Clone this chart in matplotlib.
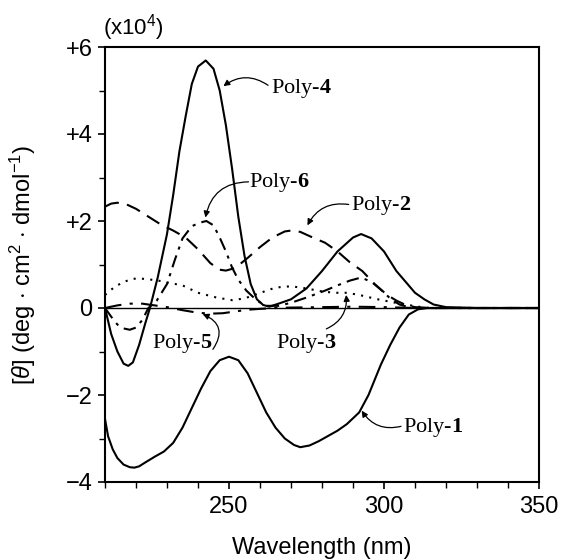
import matplotlib
matplotlib.use("Agg")
import matplotlib.pyplot as plt
from matplotlib.ticker import MultipleLocator

plt.rcParams['font.family'] = ['Liberation Sans', 'DejaVu Sans']
plt.rcParams['mathtext.fontset'] = 'custom'
plt.rcParams['mathtext.rm'] = 'Liberation Sans'
plt.rcParams['mathtext.it'] = 'Liberation Sans:italic'
plt.rcParams['mathtext.bf'] = 'Liberation Serif:bold'

# ---- data (units of 1e4 deg cm2 dmol-1) ----
poly4_x = [210, 212, 214, 216, 217.5, 219, 221, 223, 224.5, 227, 230, 232, 234, 236, 238, 240, 242.5,
           245, 247, 249, 251, 253, 255, 257, 259, 261, 263, 266, 270, 275, 280, 285, 290, 292.6,
           296, 300, 304, 307, 310, 313, 316, 320, 330, 350]
poly4_y = [0, -0.6, -1.0, -1.28, -1.33, -1.25, -0.85, -0.35, 0.0, 0.7, 1.7, 2.6, 3.6, 4.4, 5.15, 5.55, 5.69,
           5.5, 5.0, 4.2, 3.2, 2.1, 1.2, 0.55, 0.2, 0.07, 0.03, 0.1, 0.2, 0.45, 0.85, 1.3, 1.62, 1.70,
           1.6, 1.3, 0.85, 0.6, 0.35, 0.2, 0.08, 0.02, 0, 0]

poly1_x = [210, 211, 212.5, 214, 216, 218, 219.5, 221, 223, 226, 229, 232, 235, 238, 241, 244, 247, 250,
           253, 256, 259, 262, 265, 268, 271, 273, 276, 279, 282, 285, 288, 292, 295, 299, 302, 305,
           308, 311, 314, 350]
poly1_y = [-2.55, -2.95, -3.25, -3.45, -3.6, -3.66, -3.67, -3.64, -3.55, -3.42, -3.3, -3.1, -2.75, -2.3,
           -1.85, -1.45, -1.2, -1.12, -1.2, -1.5, -1.95, -2.4, -2.75, -3.0, -3.15, -3.2, -3.16, -3.06,
           -2.94, -2.82, -2.67, -2.4, -2.0, -1.3, -0.85, -0.45, -0.15, -0.03, 0, 0]

poly2_x = [210, 212, 214, 217, 220, 224, 228, 232, 236, 240, 244, 247, 249, 252, 256, 260, 264, 268, 270,
           273, 277, 281, 285, 289, 293, 297, 301, 304, 307, 310, 315, 350]
poly2_y = [2.33, 2.4, 2.42, 2.38, 2.28, 2.1, 1.92, 1.78, 1.62, 1.35, 1.03, 0.88, 0.86, 0.92, 1.15, 1.4, 1.62,
           1.76, 1.78, 1.75, 1.62, 1.5, 1.3, 1.05, 0.85, 0.55, 0.3, 0.17, 0.07, 0.02, 0, 0]

poly3_x = [210, 213, 216, 219, 221, 224, 228, 232, 235, 240, 246, 251, 255, 259, 265, 270, 275, 280,
           284, 288, 292, 298, 303, 307, 311, 315, 350]
poly3_y = [0.3, 0.48, 0.6, 0.67, 0.68, 0.66, 0.62, 0.56, 0.52, 0.35, 0.24, 0.18, 0.22, 0.32, 0.47, 0.5,
           0.45, 0.38, 0.35, 0.35, 0.3, 0.2, 0.13, 0.08, 0.03, 0, 0]

poly5_x = [210, 214, 218, 222, 226, 230, 235, 240, 244, 248, 252, 256, 260, 265, 270, 290, 300, 310, 350]
poly5_y = [0, 0.06, 0.1, 0.1, 0.06, 0.02, -0.05, -0.11, -0.13, -0.12, -0.08, -0.04, -0.02, 0, 0.01, 0.03,
           0.02, 0, 0]

poly6_x = [210, 212, 214, 216, 218, 220, 222, 224, 226.7, 230, 232.5, 235, 238, 240.5, 242.7, 245, 247,
           249, 251, 253, 255.6, 259, 262, 266, 270, 275, 281, 285, 289, 292.6, 296, 299, 302, 305,
           308, 312, 350]
poly6_y = [0, -0.2, -0.38, -0.47, -0.5, -0.45, -0.28, 0.0, 0.17, 0.55, 1.1, 1.6, 1.88, 1.96, 2.0, 1.9, 1.62,
           1.3, 0.93, 0.65, 0.4, 0.17, 0.05, 0.05, 0.12, 0.24, 0.4, 0.52, 0.63, 0.7, 0.6, 0.42, 0.22,
           0.08, 0.02, 0, 0]

y_ticks = [6, 4, 2, 0, -2, -4]
y_ticklabels = ['+6', '+4', '+2', '0', '\u22122', '\u22124']
x_ticks = [250, 300, 350]

fig = plt.figure(figsize=(5.62, 5.60), dpi=100)
ax = fig.add_axes([105/562, 1-482/560, (539-105)/562, (482-47)/560])

lw = 1.5
ax.axhline(0, color='black', lw=1.0)
ax.plot(poly1_x, poly1_y, color='black', lw=lw, ls='-')
ax.plot(poly4_x, poly4_y, color='black', lw=lw, ls='-')
ax.plot(poly2_x, poly2_y, color='black', lw=lw, ls=(0, (7, 4)))
ax.plot(poly3_x, poly3_y, color='black', lw=lw, ls=(0, (1, 3)))
ax.plot(poly5_x, poly5_y, color='black', lw=lw, ls=(0, (8, 4, 1.5, 4)))
ax.plot(poly6_x, poly6_y, color='black', lw=lw, ls=(0, (6, 3, 1.5, 3)))

ax.set_xlim(210, 350)
ax.set_ylim(-4, 6)
ax.set_xticks(x_ticks)
ax.xaxis.set_minor_locator(MultipleLocator(10))
ax.set_yticks(y_ticks)
ax.set_yticklabels(y_ticklabels)
ax.yaxis.set_minor_locator(MultipleLocator(1))
ax.tick_params(axis='both', which='major', labelsize=17, length=5, width=1.2, direction='out')
ax.tick_params(axis='both', which='minor', length=4, width=1.0, direction='out')
ax.tick_params(axis='x', which='major', pad=5)
ax.tick_params(axis='y', which='major', pad=4)
for sp in ax.spines.values():
    sp.set_linewidth(1.5)

ax.set_xlabel('Wavelength (nm)', fontsize=17, labelpad=14)
ax.set_ylabel(r'[$\theta$] (deg $\cdot$ cm$^2$ $\cdot$ dmol$^{-1}$)', fontsize=17)
ax.yaxis.set_label_coords(-0.155, 0.5)
ax.text(-0.005, 1.01, r'(x10$^4$)', transform=ax.transAxes, fontsize=16, ha='left', va='bottom')

serif = 'Liberation Serif'
lab_fs = 16
def label(x, y, num):
    ax.text(x, y, 'Poly-' + r'$\mathbf{' + num + '}$', fontsize=lab_fs, family=serif,
            ha='left', va='center')

def arrow(start, end, rad):
    ax.annotate('', xy=end, xytext=start,
                arrowprops=dict(arrowstyle='-|>', connectionstyle='arc3,rad=%s' % rad,
                                color='black', lw=0.9, mutation_scale=9,
                                shrinkA=0, shrinkB=0))

label(263.5, 5.05, '4')
arrow((262.6, 5.12), (248.2, 5.1), 0.35)

label(256.6, 2.88, '6')
arrow((256.3, 2.9), (242.4, 2.08), 0.4)

label(289.2, 2.35, '2')
arrow((288.6, 2.38), (275.3, 1.9), 0.35)

label(225.0, -0.82, '5')
arrow((244.8, -0.95), (241.5, -0.14), 0.6)

label(265.3, -0.82, '3')
arrow((281.4, -0.48), (287.8, 0.3), 0.35)

label(306.2, -2.74, '1')
arrow((305.5, -2.72), (292.8, -2.36), -0.35)

fig.savefig('out.png', dpi=100)
